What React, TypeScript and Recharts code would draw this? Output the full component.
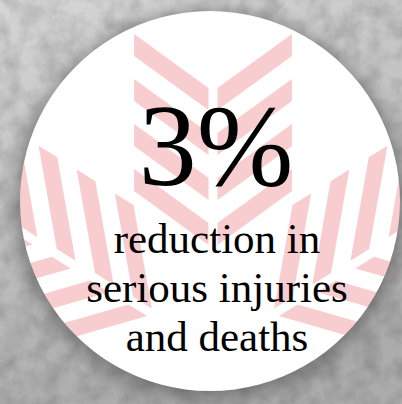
import { PieChart, Pie, Cell } from 'recharts';

// stat shown in the badge
const statValue = [3];
const statUnit = ['%'];
const captionLines = ['reduction in', 'serious injuries', 'and deaths'];
const badge = [{ name: 'badge', value: 100 }];

const W = 402;
const H = 404;
const CX = 210;
const CY = 201;
const R = 190;
const FONT = "'Liberation Serif', 'Times New Roman', serif";

// chevron legs of the pale snowflake behind the text
function snowflakePolys() {
    const ox = 213, oy = 352;
    const arms = [
        { theta: 90, alpha: 54, L: 92, ds: [107, 152, 197, 242] },
        { theta: 148, alpha: 48, L: 105, ds: [75, 120, 165, 210] },
        { theta: 32, alpha: 48, L: 105, ds: [75, 120, 165, 210] },
    ];
    const w = 22, g = 4.5;
    const polys: string[] = [];
    arms.forEach(arm => {
        const t = (arm.theta * Math.PI) / 180;
        const a = (arm.alpha * Math.PI) / 180;
        const u = [Math.cos(t), -Math.sin(t)];
        const n = [Math.sin(t), Math.cos(t)];
        arm.ds.forEach(d => {
            [-1, 1].forEach(side => {
                const v = [n[0] * side, n[1] * side];
                const pt = (p: number, q: number) =>
                    `${(ox + p * u[0] + q * v[0]).toFixed(1)},${(oy + p * u[1] + q * v[1]).toFixed(1)}`;
                const dp = arm.L * Math.cos(a), dq = arm.L * Math.sin(a);
                polys.push([pt(d, g), pt(d + w, g), pt(d + w + dp, g + dq), pt(d + dp, g + dq)].join(' '));
            });
        });
    });
    return polys;
}

export default function App() {
    const polys = snowflakePolys();
    return (
        <div style={{ position: 'absolute', left: 0, top: 0, width: W, height: H, overflow: 'hidden' }}>
            <svg width={W} height={H} style={{ position: 'absolute', left: 0, top: 0 }}>
                <defs>
                    <linearGradient id="bgGrad" x1="0" y1="0" x2="0.3" y2="1">
                        <stop offset="0%" stopColor="#d6d6d6" />
                        <stop offset="100%" stopColor="#acacac" />
                    </linearGradient>
                    <filter id="grain" x="0" y="0" width="100%" height="100%">
                        <feTurbulence type="fractalNoise" baseFrequency="0.05" numOctaves="4" seed="7" />
                        <feColorMatrix type="matrix" values="0 0 0 0 0  0 0 0 0 0  0 0 0 0 0  0 0 0 0.9 -0.3" />
                    </filter>
                    <filter id="shadow" x="-20%" y="-20%" width="140%" height="140%">
                        <feGaussianBlur stdDeviation="9" />
                    </filter>
                    {/* white badge with the snowflake, used as the pie's fill */}
                    <pattern id="badgeFill" patternUnits="userSpaceOnUse" x={0} y={0} width={W} height={H}>
                        <rect x={0} y={0} width={W} height={H} fill="#ffffff" />
                        {polys.map((p, i) => <polygon key={i} points={p} fill="#f8cdcf" />)}
                    </pattern>
                </defs>
                <rect x={0} y={0} width={W} height={H} fill="url(#bgGrad)" />
                <rect x={0} y={0} width={W} height={H} filter="url(#grain)" opacity={0.32} />
                <circle cx={CX} cy={CY + 3} r={R + 4} fill="#3c3c3c" opacity={0.5} filter="url(#shadow)" />
            </svg>
            <div style={{ position: 'absolute', left: 0, top: 0 }}>
                <PieChart width={W} height={H} margin={{ top: 0, right: 0, bottom: 0, left: 0 }}>
                    <Pie
                        data={badge}
                        dataKey="value"
                        cx={CX}
                        cy={CY}
                        innerRadius={0}
                        outerRadius={R}
                        stroke="none"
                        isAnimationActive={false}
                    >
                        {badge.map(b => <Cell key={b.name} fill="url(#badgeFill)" />)}
                    </Pie>
                </PieChart>
            </div>
            <svg width={W} height={H} style={{ position: 'absolute', left: 0, top: 0, pointerEvents: 'none' }}>
                <text x={216} y={185} textAnchor="middle" fontFamily={FONT} fontSize={116} fill="#000">
                    {`${statValue[0]}${statUnit[0]}`}
                </text>
                {captionLines.map((line, i) => (
                    <text key={line} x={217} y={253 + i * 49} textAnchor="middle" fontFamily={FONT} fontSize={43} fill="#000">
                        {line}
                    </text>
                ))}
            </svg>
        </div>
    );
}
